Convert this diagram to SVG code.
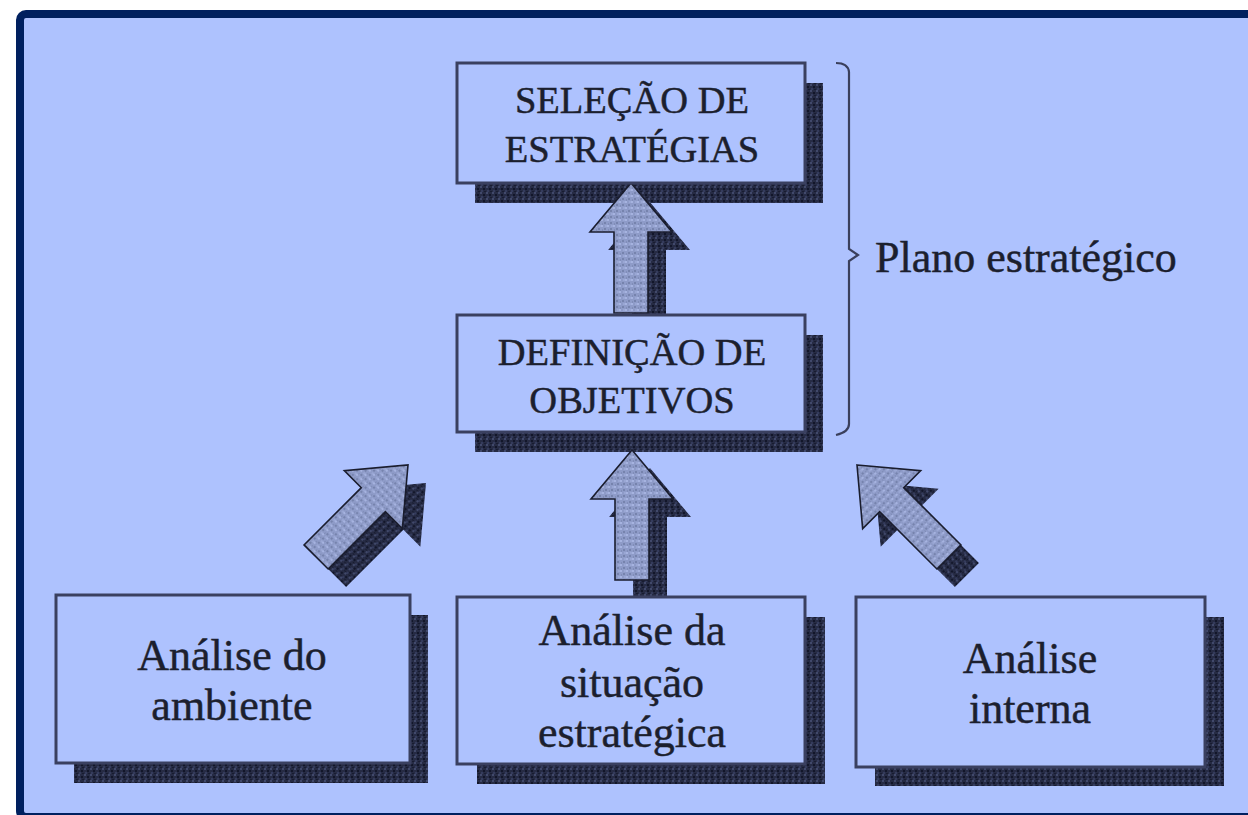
<svg xmlns="http://www.w3.org/2000/svg" width="1248" height="815" viewBox="0 0 1248 815">
<style>
.bg{fill:#aec2fe}
.frame{fill:#aec2fe;stroke:#00205f;stroke-width:8}
.box{fill:#aec2fe;stroke:#3a4060;stroke-width:3}
.shadow{fill:url(#shadowTex)}
.arrow{fill:url(#arrowTex);stroke:#1a1d2e;stroke-width:1.6;stroke-linejoin:miter}
.ashadow{fill:url(#shadowTex)}
.t{font-family:"Liberation Serif","Times New Roman",serif;fill:#1c1f2e;stroke:#1c1f2e;stroke-width:0.45;text-anchor:middle}
.caps{font-size:38.5px}
.low{font-size:44px}
.brace{fill:none;stroke:#3a3f5c;stroke-width:2.2}
</style>
<defs>
<pattern id="shadowTex" width="6" height="6" patternUnits="userSpaceOnUse">
<rect width="6" height="6" fill="#262b44"/>
<rect x="0" y="0" width="2" height="2" fill="#41496b"/>
<rect x="3" y="2" width="2" height="2" fill="#12162a"/>
<rect x="1" y="4" width="2" height="2" fill="#343b5c"/>
<rect x="4" y="5" width="2" height="1" fill="#181c31"/>
</pattern>
<pattern id="arrowTex" width="6" height="6" patternUnits="userSpaceOnUse">
<rect width="6" height="6" fill="#8e9bc8"/>
<rect x="0" y="0" width="2" height="2" fill="#a6b3e0"/>
<rect x="3" y="3" width="2" height="2" fill="#7683ad"/>
<rect x="4" y="0" width="2" height="2" fill="#9aa7d4"/>
<rect x="1" y="4" width="1" height="2" fill="#808db8"/>
</pattern>
<path id="arr" d="M0,0 L41,49 L17,49 L17,130 L-17,130 L-17,49 L-41,49 Z"/>
</defs>

<rect class="frame" x="20" y="14" width="1240" height="803" rx="6"/>

<g id="shadows">
<rect class="shadow" x="475" y="83" width="348" height="120"/>
<rect class="shadow" x="475" y="335" width="348" height="117"/>
<rect class="shadow" x="74" y="615" width="354" height="168"/>
<rect class="shadow" x="477" y="617" width="348" height="167"/>
<rect class="shadow" x="875" y="617" width="349" height="169"/>
</g>

<g id="connectors">
<use href="#arr" class="ashadow" transform="translate(649,201)"/>
<use href="#arr" class="arrow" transform="translate(631,183)"/>
<use href="#arr" class="ashadow" transform="translate(650,468)"/>
<use href="#arr" class="arrow" transform="translate(632,450)"/>
<use href="#arr" class="ashadow" transform="translate(426,483) rotate(45)"/>
<use href="#arr" class="arrow" transform="translate(408,465) rotate(45)"/>
<use href="#arr" class="ashadow" transform="translate(875,483) rotate(-45)"/>
<use href="#arr" class="arrow" transform="translate(857,465) rotate(-45)"/>
<path class="brace" d="M836,63 Q848,63 849,72 L849,249 L858,255 L849,261 L849,424 Q849,432 836,435"/>
</g>

<g id="node-selecao">
<rect class="box" x="457" y="63" width="348" height="120"/>
<text class="t caps" x="632" y="113">SELEÇÃO DE</text>
<text class="t caps" x="632" y="162">ESTRATÉGIAS</text>
</g>

<g id="node-definicao">
<rect class="box" x="457" y="315" width="348" height="117"/>
<text class="t caps" x="632" y="365">DEFINIÇÃO DE</text>
<text class="t caps" x="632" y="413">OBJETIVOS</text>
</g>

<g id="node-plano">
<text class="t low" x="875" y="272" style="text-anchor:start">Plano estratégico</text>
</g>

<g id="node-ambiente">
<rect class="box" x="56" y="595" width="354" height="168"/>
<text class="t low" x="232" y="670">Análise do</text>
<text class="t low" x="232" y="720">ambiente</text>
</g>

<g id="node-situacao">
<rect class="box" x="457" y="597" width="348" height="167"/>
<text class="t low" x="632" y="645">Análise da</text>
<text class="t low" x="632" y="697">situação</text>
<text class="t low" x="632" y="747">estratégica</text>
</g>

<g id="node-interna">
<rect class="box" x="856" y="597" width="349" height="170"/>
<text class="t low" x="1030" y="673">Análise</text>
<text class="t low" x="1030" y="723">interna</text>
</g>
</svg>
